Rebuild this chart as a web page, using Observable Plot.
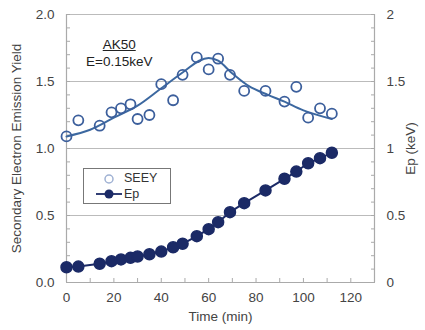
<!DOCTYPE html>
<html>
<head>
<meta charset="utf-8">
<script src="https://cdn.jsdelivr.net/npm/d3@7"></script>
<script src="https://cdn.jsdelivr.net/npm/@observablehq/plot@0.6"></script>
<style>
  html, body { margin: 0; padding: 0; background: #fff; }
  #wrap { position: relative; width: 425px; height: 330px; font-family: "Liberation Sans", Arial, sans-serif; }
  #legend { position: absolute; left: 83px; top: 168px; width: 86px; height: 34px; border: 1.3px solid #777; background: #fff; font-size: 12.5px; color: #333; }
  .lrow { position: absolute; left: 0; height: 16px; line-height: 16px; }
  #note { position: absolute; left: 86px; top: 36px; font-size: 13.5px; color: #222; text-align: center; line-height: 17px; }
  #note u { text-decoration: underline; }
</style>
</head>
<body>
<div id="wrap">
  <div id="chart"></div>
  <div id="note"><u>AK50</u><br>E=0.15keV</div>
  <div id="legend">
    <div class="lrow" style="top:2px;left:18px;"><svg width="14" height="16"><circle cx="7" cy="8" r="4" fill="none" stroke="#9fb1d3" stroke-width="1.5"/></svg></div>
    <div class="lrow" style="top:1px;left:40px;">SEEY</div>
    <div class="lrow" style="top:17px;left:10px;"><svg width="28" height="16"><line x1="2" y1="8" x2="28" y2="8" stroke="#1b2a66" stroke-width="1.8"/><circle cx="15" cy="8" r="4.5" fill="#1b2a66"/></svg></div>
    <div class="lrow" style="top:17px;left:40px;">Ep</div>
  </div>
</div>
<script>
const time = [0, 5, 14, 19, 23, 27, 30, 35, 40, 45, 49, 55, 60, 64, 69, 75, 84, 92, 97, 102, 107, 112];
const seey = [1.09, 1.21, 1.17, 1.27, 1.30, 1.33, 1.22, 1.25, 1.48, 1.36, 1.55, 1.68, 1.59, 1.67, 1.55, 1.43, 1.43, 1.35, 1.46, 1.23, 1.30, 1.26];
const ep   = [0.114, 0.119, 0.140, 0.159, 0.172, 0.184, 0.194, 0.211, 0.231, 0.263, 0.289, 0.346, 0.398, 0.450, 0.525, 0.592, 0.687, 0.774, 0.828, 0.890, 0.928, 0.968];
const trendTime = [0, 10, 20, 30, 40, 50, 56, 60, 64, 70, 77, 85, 92, 100, 112];
const trendSeey = [1.09, 1.14, 1.23, 1.32, 1.45, 1.58, 1.655, 1.675, 1.655, 1.56, 1.465, 1.40, 1.35, 1.285, 1.22];
const xTicks = [0, 20, 40, 60, 80, 100, 120];
const xMinor = [10, 30, 50, 70, 90, 110, 130];
const yTicks = [0, 0.5, 1, 1.5, 2];
const yMinor = [0.1,0.2,0.3,0.4,0.6,0.7,0.8,0.9,1.1,1.2,1.3,1.4,1.6,1.7,1.8,1.9];

const pts = time.map((t, i) => ({t, seey: seey[i], ep: ep[i]}));
const trend = trendTime.map((t, i) => ({t, v: trendSeey[i]}));

const chart = Plot.plot({
  width: 425, height: 330,
  marginLeft: 66, marginRight: 51, marginTop: 14, marginBottom: 48,
  style: {fontFamily: "'Liberation Sans', Arial, sans-serif", background: "#fff", overflow: "visible"},
  x: {domain: [0, 130]},
  y: {domain: [0, 2]},
  marks: [
    Plot.gridY(yTicks.slice(1), {stroke: "#bbb", strokeOpacity: 1, strokeWidth: 1.2}),
    Plot.ruleX([0, 130], {stroke: "#aaa", strokeWidth: 1.2}),
    Plot.ruleY([0], {stroke: "#aaa", strokeWidth: 1.2}),
    Plot.axisY(yMinor.concat(yTicks), {anchor: "left", tickSize: -4, text: null, stroke: "#aaa", label: null}),
    Plot.axisY(yMinor.concat(yTicks), {anchor: "right", tickSize: -4, text: null, stroke: "#aaa", label: null}),
    Plot.axisX(xMinor.concat(xTicks), {anchor: "bottom", tickSize: -4, text: null, stroke: "#aaa", label: null}),
    Plot.axisY(yTicks, {anchor: "left", tickSize: 0, tickPadding: 12, tickFormat: d3.format(".1f"), fontSize: 13, fill: "#555", fontWeight: "bold",
      label: "Secondary Electron Emission Yield", labelAnchor: "center", labelArrow: "none", labelOffset: 55}),
    Plot.axisY(yTicks, {anchor: "right", tickSize: 0, tickPadding: 12, tickFormat: d => String(d), fontSize: 13, fill: "#555", fontWeight: "bold",
      label: "Ep (keV)", labelAnchor: "center", labelArrow: "none", labelOffset: 40}),
    Plot.axisX(xTicks, {anchor: "bottom", tickSize: 0, tickPadding: 10, fontSize: 13, fill: "#555", fontWeight: "bold",
      label: "Time (min)", labelAnchor: "center", labelArrow: "none", labelOffset: 38}),
    Plot.line(trend, {x: "t", y: "v", curve: "catmull-rom", stroke: "#3c68a0", strokeWidth: 2}),
    Plot.dot(pts, {x: "t", y: "seey", r: 5, stroke: "#3c5f9c", strokeWidth: 1.8, fill: "none"}),
    Plot.line(pts, {x: "t", y: "ep", stroke: "#1b2a66", strokeWidth: 2}),
    Plot.dot(pts, {x: "t", y: "ep", r: 5.5, fill: "#1b2a66", stroke: "#1b2a66"})
  ]
});
chart.querySelectorAll("[aria-label$='axis label'] text, g[aria-label*='label'] text").forEach(t => {
  t.setAttribute("font-size", "13.5"); t.setAttribute("font-weight", "normal"); t.setAttribute("fill", "#444");
});
document.getElementById("chart").appendChild(chart);
</script>
</body>
</html>
